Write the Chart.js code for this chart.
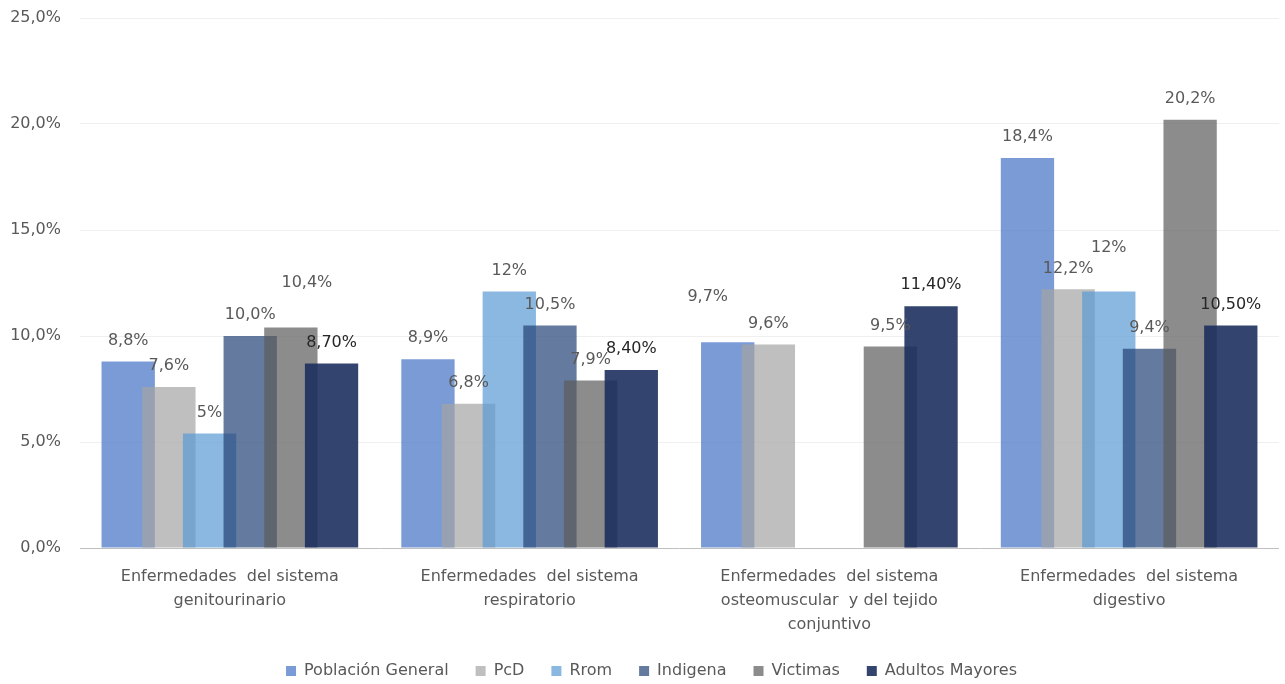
<!DOCTYPE html>
<html lang="es">
<head>
<meta charset="utf-8">
<title>Enfermedades por grupo poblacional</title>
<script src="https://cdn.jsdelivr.net/npm/chart.js@4.4.1/dist/chart.umd.min.js"></script>
<style>
  html, body { margin: 0; padding: 0; background: #fff; }
  #wrap { width: 1285px; height: 684px; }
</style>
</head>
<body>
<div id="wrap"><canvas id="chart" width="1285" height="684"></canvas></div>
<script>
const categories = [
  ["Enfermedades  del sistema", "genitourinario"],
  ["Enfermedades  del sistema", "respiratorio"],
  ["Enfermedades  del sistema", "osteomuscular  y del tejido", "conjuntivo"],
  ["Enfermedades  del sistema", "digestivo"],
];
const seriesNames = ["Población General", "PcD", "Rrom", "Indigena", "Victimas", "Adultos Mayores"];

const poblacionGeneral = [8.8, 8.9, 9.7, 18.4];
const pcd = [7.6, 6.8, 9.6, 12.2];
const rrom = [5.4, 12.1, null, 12.1];
const indigena = [10.0, 10.5, null, 9.4];
const victimas = [10.4, 7.9, 9.5, 20.2];
const adultosMayores = [8.7, 8.4, 11.4, 10.5];

// value labels as printed on the chart
const labelsPoblacionGeneral = ["8,8%", "8,9%", "9,7%", "18,4%"];
const labelsPcd = ["7,6%", "6,8%", "9,6%", "12,2%"];
const labelsRrom = ["5%", "12%", "", "12%"];
const labelsIndigena = ["10,0%", "10,5%", "", "9,4%"];
const labelsVictimas = ["10,4%", "7,9%", "9,5%", "20,2%"];
const labelsAdultosMayores = ["8,70%", "8,40%", "11,40%", "10,50%"];

const yTickValues = [0, 5, 10, 15, 20, 25];
const yTickLabels = ["0,0%", "5,0%", "10,0%", "15,0%", "20,0%", "25,0%"];

const FONT = '"DejaVu Sans", sans-serif';

// a few labels were dragged away from the bar top in the original: [series:category] -> [dx, dy]
const labelNudge = { "4:0": [16, -24], "0:2": [-20, -25], "2:3": [0, -23] };

function makeSet(i, data, labels, color, labelColor) {
  return {
    label: seriesNames[i],
    data: data,
    valueLabels: labels,
    labelColor: labelColor,
    backgroundColor: color,
    borderWidth: 0,
    categoryPercentage: 0.814,
    barPercentage: 1.311,
  };
}

function drawValueLabels(chart) {
  const ctx = chart.ctx;
  ctx.save();
  ctx.font = '16px ' + FONT;
  ctx.textAlign = 'center';
  ctx.textBaseline = 'middle';
  chart.data.datasets.forEach((ds, i) => {
    if (!chart.isDatasetVisible(i)) return;
    chart.getDatasetMeta(i).data.forEach((bar, j) => {
      if (ds.data[j] == null) return;
      const n = labelNudge[i + ':' + j] || [0, 0];
      ctx.fillStyle = ds.labelColor;
      ctx.fillText(ds.valueLabels[j], bar.x + n[0], bar.y - 21 + n[1]);
    });
  });
  ctx.restore();
}

// later series sit on top of earlier ones, like in the original
const drawInOrder = {
  id: 'drawInOrder',
  beforeDatasetsDraw(chart) {
    chart.data.datasets.forEach((ds, i) => {
      if (chart.isDatasetVisible(i)) chart.getDatasetMeta(i).controller.draw();
    });
    drawValueLabels(chart);
    return false;
  }
};

// the legend in the original sits a little right of the canvas centre
const legendShift = {
  id: 'legendShift',
  afterLayout(chart) {
    chart.legend.left += 12;
    chart.legend.right += 12;
  }
};

new Chart(document.getElementById('chart'), {
  type: 'bar',
  data: {
    labels: categories,
    datasets: [
      makeSet(0, poblacionGeneral, labelsPoblacionGeneral, 'rgba(68,114,196,0.71)', '#595959'),
      makeSet(1, pcd, labelsPcd, 'rgba(165,165,165,0.71)', '#595959'),
      makeSet(2, rrom, labelsRrom, 'rgba(91,155,213,0.71)', '#595959'),
      makeSet(3, indigena, labelsIndigena, 'rgba(38,68,120,0.71)', '#595959'),
      makeSet(4, victimas, labelsVictimas, 'rgba(93,93,93,0.71)', '#595959'),
      makeSet(5, adultosMayores, labelsAdultosMayores, 'rgba(29,49,95,0.9)', '#262626'),
    ]
  },
  options: {
    responsive: false,
    animation: false,
    layout: { padding: { left: 0, right: 6, top: 18, bottom: -5 } },
    scales: {
      x: {
        grid: { display: false, drawTicks: false },
        border: { display: false },
        ticks: {
          color: '#595959',
          font: { family: FONT, size: 16, lineHeight: '24px' },
          padding: 17,
          maxRotation: 0,
          autoSkip: false
        },
        afterFit(axis) { axis.height = 88; }
      },
      y: {
        min: 0,
        max: 25,
        ticks: {
          stepSize: 5,
          padding: 19,
          color: '#595959',
          font: { family: FONT, size: 16 },
          callback: (v) => yTickLabels[yTickValues.indexOf(v)]
        },
        grid: {
          drawTicks: false,
          color: (c) => (c.tick && c.tick.value === 0 ? '#BFBFBF' : '#EFEFEF')
        },
        border: { display: false },
        afterFit(axis) {
          axis.width = 80;
          axis.paddingTop = 0;
          axis.paddingBottom = 0;
        }
      }
    },
    plugins: {
      legend: {
        position: 'bottom',
        labels: {
          boxWidth: 10,
          boxHeight: 10,
          padding: 27,
          color: '#595959',
          font: { family: FONT, size: 16 }
        }
      },
      tooltip: { enabled: false }
    }
  },
  plugins: [drawInOrder, legendShift]
});
</script>
</body>
</html>
